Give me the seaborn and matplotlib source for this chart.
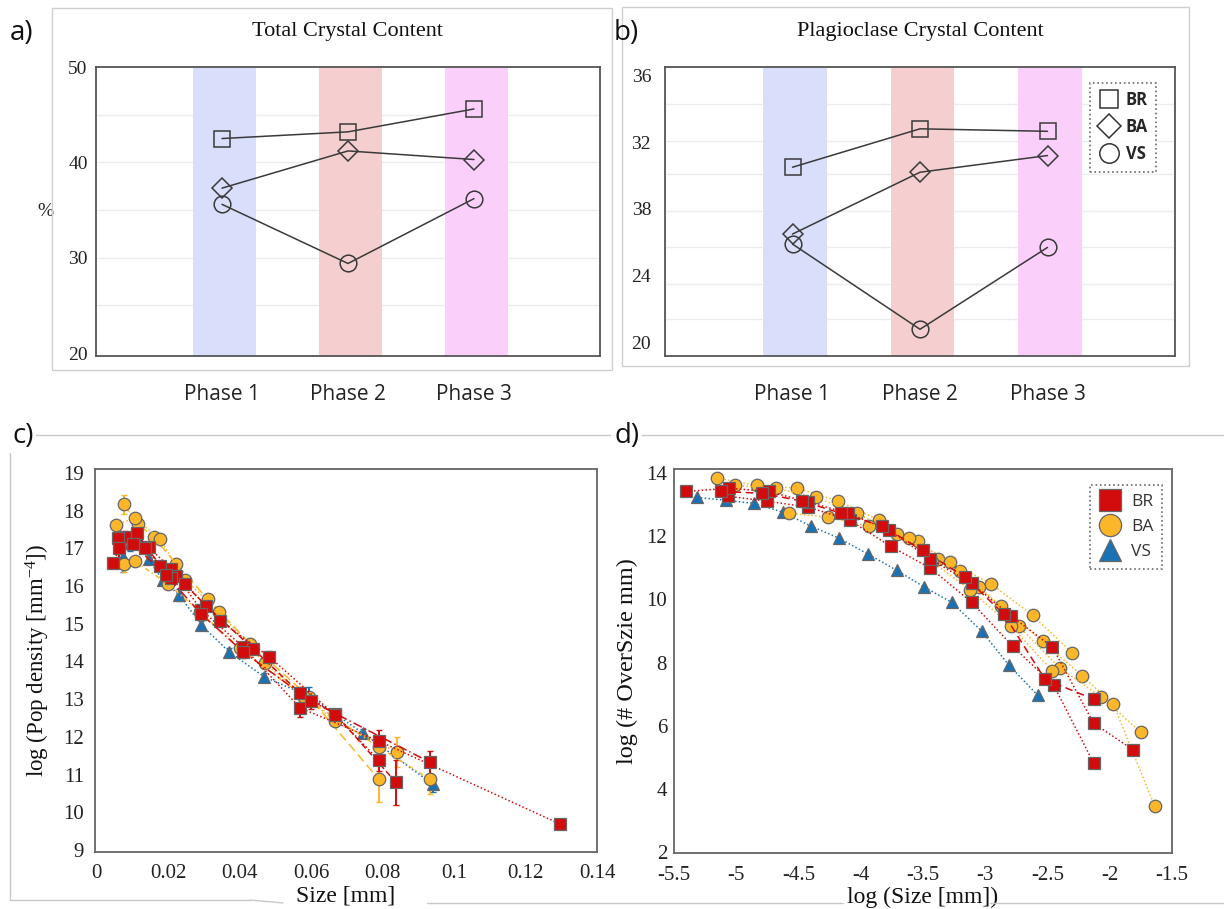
import matplotlib
matplotlib.use("Agg")
import matplotlib.pyplot as plt
import seaborn as sns
from matplotlib.lines import Line2D
from matplotlib.patches import Rectangle

# ---------------- data ----------------
phases = ["Phase 1", "Phase 2", "Phase 3"]
samples = ["BR", "BA", "VS"]

total_br = [42.5, 43.2, 45.6]
total_ba = [37.3, 41.2, 40.3]
total_vs = [35.6, 29.4, 36.2]

plag_br = [30.5, 32.8, 32.65]
plag_ba = [26.5, 30.2, 31.2]
plag_vs = [25.9, 20.8, 25.7]
plag_tick_values = [20, 24, 28, 32, 36]
plag_tick_labels = ["20", "24", "38", "32", "36"]

# crystal size distributions (population density vs size)
csd_br_x = [[0.0045, 0.0078, 0.0145, 0.0209, 0.0293, 0.0410, 0.0569, 0.0789, 0.1297],
            [0.0059, 0.0112, 0.0178, 0.0223, 0.0307, 0.0438, 0.0569, 0.0667, 0.0837],
            [0.0061, 0.0135, 0.0209, 0.0248, 0.0346, 0.0483, 0.0667, 0.0789],
            [0.0101, 0.0193, 0.0293, 0.0410, 0.0600, 0.0932]]
csd_br_y = [[16.61, 17.30, 17.03, 16.45, 15.36, 14.38, 12.77, 11.89, 9.69],
            [17.27, 17.40, 16.53, 16.26, 15.47, 14.33, 13.16, 12.61, 10.80],
            [17.00, 17.00, 16.21, 16.05, 15.07, 14.12, 12.58, 11.39],
            [17.10, 16.30, 15.25, 14.25, 12.95, 11.33]]
csd_br_err = [[0.1, 0.15, 0.1, 0.1, 0.1, 0.1, 0.25, 0.3, 0.05],
              [0.1, 0.15, 0.1, 0.1, 0.1, 0.1, 0.15, 0.1, 0.6],
              [0.3, 0.1, 0.1, 0.1, 0.1, 0.15, 0.1, 0.3],
              [0.1, 0.1, 0.1, 0.15, 0.2, 0.3]]

csd_ba_x = [[0.0075, 0.0114, 0.0159, 0.0223, 0.0310, 0.0430, 0.0594, 0.0789],
            [0.0053, 0.0106, 0.0176, 0.0248, 0.0343, 0.0470, 0.0667, 0.0839],
            [0.0075, 0.0106, 0.0200, 0.0290, 0.0400, 0.0580, 0.0789, 0.0932]]
csd_ba_y = [[18.17, 17.64, 17.30, 16.58, 15.65, 14.46, 13.06, 10.88],
            [17.61, 17.80, 17.25, 16.16, 15.31, 13.95, 12.42, 11.60],
            [16.58, 16.66, 16.05, 15.30, 14.35, 13.05, 11.73, 10.88]]
csd_ba_err = [[0.25, 0.1, 0.1, 0.1, 0.1, 0.15, 0.1, 0.6],
              [0.1, 0.1, 0.1, 0.1, 0.1, 0.1, 0.1, 0.4],
              [0.2, 0.1, 0.1, 0.1, 0.1, 0.1, 0.3, 0.4]]

csd_vs_x = [[0.0073, 0.0092, 0.0117, 0.0145, 0.0184, 0.0231, 0.0293, 0.0371, 0.0469, 0.0594, 0.0745, 0.0940]]
csd_vs_y = [[16.77, 17.14, 17.16, 16.71, 16.16, 15.76, 14.96, 14.25, 13.59, 13.08, 12.10, 10.75]]
csd_vs_err = [[0.4, 0.2, 0.1, 0.1, 0.1, 0.15, 0.1, 0.1, 0.1, 0.25, 0.1, 0.2]]

# cumulative oversize counts (log-log)
cum_br_x = [[-5.07, -4.75, -4.42, -4.09, -3.76, -3.44, -3.11, -2.78, -2.45, -2.13],
            [-5.40, -5.06, -4.74, -4.42, -4.10, -3.77, -3.44, -3.11, -2.79, -2.46, -2.13, -1.81],
            [-5.12, -4.79, -4.47, -4.16, -3.83, -3.50, -3.16, -2.85, -2.52, -2.13]]
cum_br_y = [[13.27, 13.11, 12.92, 12.51, 11.68, 10.99, 9.91, 8.52, 7.28, 4.82],
            [13.42, 13.52, 13.42, 13.08, 12.73, 12.19, 11.27, 10.51, 9.47, 8.49, 6.08, 5.23],
            [13.42, 13.36, 13.11, 12.73, 12.32, 11.55, 10.70, 9.53, 7.47, 6.84]]

cum_ba_x = [[-5.155, -4.83, -4.51, -4.18, -3.85, -3.54, -3.20, -2.87, -2.54, -2.22, -1.97, -1.64],
            [-5.01, -4.68, -4.36, -4.03, -3.71, -3.38, -3.05, -2.73, -2.40, -2.07, -1.75],
            [-4.58, -4.26, -3.93, -3.61, -3.28, -2.95, -2.62, -2.30],
            [-3.43, -3.12, -2.79, -2.46]]
cum_ba_y = [[13.84, 13.61, 13.52, 13.11, 12.51, 11.84, 10.89, 9.78, 8.68, 7.57, 6.68, 3.46],
            [13.61, 13.52, 13.23, 12.73, 12.06, 11.27, 10.39, 9.15, 7.82, 6.91, 5.80],
            [12.73, 12.60, 12.32, 11.94, 11.18, 10.48, 9.50, 8.30],
            [11.20, 10.30, 9.15, 7.73]]

cum_vs_x = [[-5.315, -5.082, -4.857, -4.624, -4.40, -4.175, -3.94, -3.71, -3.49, -3.27, -3.03, -2.81, -2.58]]
cum_vs_y = [[13.23, 13.14, 13.04, 12.76, 12.32, 11.94, 11.43, 10.92, 10.39, 9.91, 9.00, 7.92, 6.97]]

# ---------------- style ----------------
sns.set_theme(style="white")
SERIF = ["Liberation Serif", "DejaVu Serif"]
SANS = ["Open Sans", "DejaVu Sans"]
plt.rcParams["font.family"] = SERIF
plt.rcParams["axes.unicode_minus"] = False
plt.rcParams["mathtext.default"] = "regular"

RED, ORANGE, BLUE = "#d20c0c", "#fbb629", "#1a72b6"
band_colors = ["#d9defa", "#f5cfcf", "#fad0fb"]
group_colors = {"BR": RED, "BA": ORANGE, "VS": BLUE}
group_markers = {"BR": "s", "BA": "o", "VS": "^"}
open_markers = {"BR": ("s", 11), "BA": ("D", 10), "VS": ("o", 12)}

fig = plt.figure(figsize=(12.24, 9.09), dpi=100)
W, H = 1224.0, 909.0


def fx(px):
    return px / W


def fy(py):
    return 1 - py / H


# panel frames drawn on the figure
fig.add_artist(Rectangle((fx(52), fy(370)), (612 - 52) / W, (370 - 8) / H,
                         fill=False, ec="#cfcfcf", lw=1.0, transform=fig.transFigure))
fig.add_artist(Rectangle((fx(622), fy(366)), (1189 - 622) / W, (366 - 7) / H,
                         fill=False, ec="#cfcfcf", lw=1.0, transform=fig.transFigure))
for (x0, y0, x1, y1) in [(10, 435, 1224, 435), (10, 435, 10, 900), (10, 900, 250, 900),
                         (250, 900, 283, 903), (427, 903, 843, 903), (990, 903, 1224, 903)]:
    fig.add_artist(Line2D([fx(x0), fx(x1)], [fy(y0), fy(y1)], color="#c8c8c8", lw=1.0,
                          transform=fig.transFigure))


def phase_panel(ax, br, ba, vs, title):
    for i, c in enumerate(band_colors):
        ax.axvspan(i - 0.23, i + 0.27, color=c, lw=0, zorder=0.5)
    xs = list(range(len(phases)))
    for name, vals in zip(samples, [br, ba, vs]):
        m, ms = open_markers[name]
        sns.lineplot(x=xs, y=vals, ax=ax, color="#3a3a3a", lw=1.1, marker=m,
                     markersize=ms, markerfacecolor="none", markeredgecolor="#3a3a3a",
                     markeredgewidth=1.1, estimator=None, sort=False, zorder=3)
    ax.set_xlim(-1, 3)
    ax.set_xticks(xs)
    ax.set_xticklabels(phases, family=SANS, fontsize=15, color="#222")
    ax.tick_params(axis="x", length=0, pad=20)
    ax.tick_params(axis="y", length=0, pad=6, labelsize=14, labelcolor="#222")
    for s in ax.spines.values():
        s.set_color("#555")
        s.set_linewidth(1.3)
    ax.set_title(title, fontsize=16, pad=22, color="#111")


# ---- a) total crystal content ----
axA = fig.add_axes([fx(96), fy(356), (600 - 96) / W, (356 - 67) / H])
for g in [25, 30, 35, 40, 45]:
    axA.axhline(g, color="#ececec", lw=1.0, zorder=0.2)
phase_panel(axA, total_br, total_ba, total_vs, "Total Crystal Content")
axA.set_ylim(19.7, 50)
axA.set_yticks([20, 30, 40, 50])
axA.set_ylabel("%", rotation=0, fontsize=14, color="#222", va="center", ha="center")
axA.yaxis.set_label_coords(-0.10, 0.5)

# ---- b) plagioclase crystal content ----
axB = fig.add_axes([fx(665), fy(356), (1175 - 665) / W, (356 - 67) / H])
for g in [21.4, 23.5, 25.7, 27.9, 30.1, 32.1, 34.3]:
    axB.axhline(g, color="#ececec", lw=1.0, zorder=0.2)
phase_panel(axB, plag_br, plag_ba, plag_vs, "Plagioclase Crystal Content")
axB.set_ylim(19.2, 36.5)
axB.set_yticks(plag_tick_values)
axB.set_yticklabels(plag_tick_labels)
axB.tick_params(axis="y", pad=10)
handles = [Line2D([], [], ls="none", marker=open_markers[n][0], markersize=open_markers[n][1] + 2,
                  markerfacecolor="none", markeredgecolor="#333", markeredgewidth=1.1)
           for n in samples]
legB = axB.legend(handles, samples, loc="upper right", bbox_to_anchor=(0.98, 0.975),
                  frameon=True, fancybox=False, handletextpad=0.35, borderpad=0.5,
                  labelspacing=0.55, handlelength=1.3,
                  prop={"family": SANS, "weight": "bold", "size": 12})
legB.get_frame().set_edgecolor("#444")
legB.get_frame().set_linestyle(":")
legB.get_frame().set_linewidth(1.2)

# panel letters
for txt, px, py in [("a)", 10, 33), ("b)", 614, 33)]:
    fig.text(fx(px), fy(py), txt, family=SANS, fontsize=20, va="center", ha="left", color="#111")
for txt, px, py in [("c)", 12, 436), ("d)", 614, 436)]:
    fig.text(fx(px), fy(py), txt, family=SANS, fontsize=20, va="center", ha="left", color="#111",
             bbox=dict(boxstyle="square,pad=0.1", fc="white", ec="none"))

line_styles_br = [(0, (1, 1.5)), (0, (4, 2)), (0, (1, 1.5)), (0, (6, 2, 1, 2))]
line_styles_ba = [(0, (6, 3)), (0, (1, 1.5)), (0, (3, 2, 1, 2))]
line_styles_vs = [(0, (1, 1.5))]


def scatter_series(ax, xs, ys, name, styles, errs=None):
    col = group_colors[name]
    mk = group_markers[name]
    ms = {"BR": 8, "BA": 9, "VS": 9}[name]
    for k, (x, y) in enumerate(zip(xs, ys)):
        if errs is not None:
            ax.errorbar(x, y, yerr=errs[k], fmt="none", ecolor=col, elinewidth=1.4,
                        capsize=2, capthick=1.0, zorder=2)
        sns.lineplot(x=x, y=y, ax=ax, color=col, lw=1.1, linestyle=styles[k % len(styles)],
                     marker=mk, markersize=ms, markerfacecolor=col, markeredgecolor="#666",
                     markeredgewidth=0.9, estimator=None, sort=False, zorder=3)


def frame(ax):
    for s in ax.spines.values():
        s.set_color("#666")
        s.set_linewidth(1.3)
    ax.tick_params(length=0, labelsize=15, labelcolor="#222")


# ---- c) CSD ----
axC = fig.add_axes([fx(95), fy(852), (597 - 95) / W, (852 - 469) / H])
scatter_series(axC, csd_vs_x, csd_vs_y, "VS", line_styles_vs, csd_vs_err)
scatter_series(axC, csd_ba_x, csd_ba_y, "BA", line_styles_ba, csd_ba_err)
scatter_series(axC, csd_br_x, csd_br_y, "BR", line_styles_br, csd_br_err)
axC.set_xlim(-0.0005, 0.14)
axC.set_ylim(8.95, 19.1)
axC.set_xticks([0, 0.02, 0.04, 0.06, 0.08, 0.1, 0.12, 0.14])
axC.set_xticklabels(["0", "0.02", "0.04", "0.06", "0.08", "0.1", "0.12", "0.14"])
axC.set_yticks(range(9, 20))
frame(axC)
axC.tick_params(axis="x", pad=9)
axC.tick_params(axis="y", pad=8)
axC.set_xlabel("Size [mm]", fontsize=17, labelpad=1.5, color="#111")
axC.set_ylabel("log (Pop density [mm$^{-4}$])", fontsize=16.5, labelpad=8, color="#111")

# ---- d) cumulative ----
axD = fig.add_axes([fx(674), fy(853), (1172 - 674) / W, (853 - 469) / H])
scatter_series(axD, cum_vs_x, cum_vs_y, "VS", line_styles_vs)
scatter_series(axD, cum_ba_x, cum_ba_y, "BA", [(0, (1, 1.5))])
scatter_series(axD, cum_br_x, cum_br_y, "BR", [(0, (1, 1.5)), (0, (1, 1.5)), (0, (5, 3))])
axD.set_xlim(-5.5, -1.5)
axD.set_ylim(1.97, 14.13)
axD.set_xticks([-5.5, -5, -4.5, -4, -3.5, -3, -2.5, -2, -1.5])
axD.set_xticklabels(["-5.5", "-5", "-4.5", "-4", "-3.5", "-3", "-2.5", "-2", "-1.5"])
axD.set_yticks([2, 4, 6, 8, 10, 12, 14])
frame(axD)
axD.tick_params(axis="x", pad=9)
axD.tick_params(axis="y", pad=5)
axD.set_xlabel("log (Size [mm])", fontsize=17, labelpad=1.5, color="#111")
axD.set_ylabel("log (# OverSzie mm)", fontsize=17.5, labelpad=6, color="#111")
handlesD = [Line2D([], [], ls="none", marker=group_markers[n], markersize=16,
                   markerfacecolor=group_colors[n], markeredgecolor="#666", markeredgewidth=0.9)
            for n in samples]
legD = axD.legend(handlesD, samples, loc="upper right", bbox_to_anchor=(0.998, 0.98),
                  frameon=True, fancybox=False, handletextpad=0.5, borderpad=0.5,
                  labelspacing=0.5, handlelength=1.4,
                  prop={"family": SANS, "size": 12.5})
legD.get_frame().set_edgecolor("#444")
legD.get_frame().set_linestyle(":")
legD.get_frame().set_linewidth(1.2)
for t in legD.get_texts():
    t.set_color("#333")

fig.savefig("out.png", dpi=100)
